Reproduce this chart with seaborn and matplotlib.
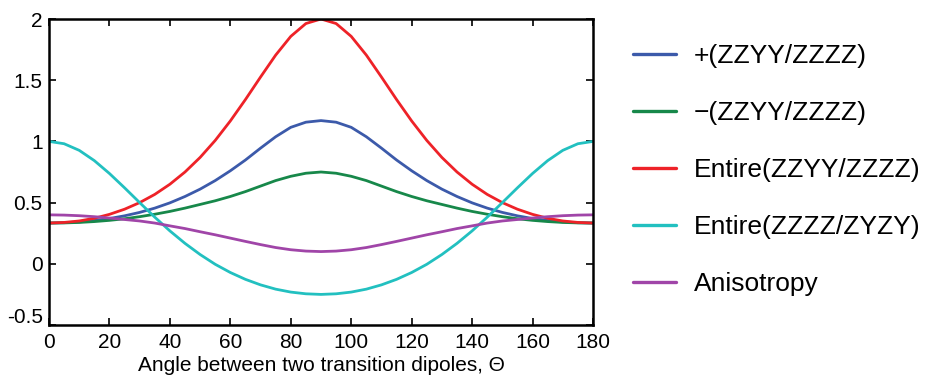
import matplotlib
matplotlib.use("Agg")
import matplotlib.pyplot as plt
import matplotlib.transforms as mtransforms
import pandas as pd
import seaborn as sns

# Angle grid (degrees) and curve values
theta = list(range(0, 181, 5))

plus_zzyy = [0.333, 0.336, 0.342, 0.354, 0.370, 0.392, 0.420, 0.455, 0.498, 0.550,
             0.610, 0.680, 0.760, 0.848, 0.945, 1.038, 1.115, 1.157, 1.170, 1.157,
             1.115, 1.038, 0.945, 0.848, 0.760, 0.680, 0.610, 0.550, 0.498, 0.455,
             0.420, 0.392, 0.370, 0.354, 0.342, 0.336, 0.333]
minus_zzyy = [0.333, 0.334, 0.338, 0.345, 0.355, 0.368, 0.385, 0.405, 0.428, 0.455,
              0.485, 0.515, 0.550, 0.590, 0.635, 0.680, 0.715, 0.740, 0.750, 0.740,
              0.715, 0.680, 0.635, 0.590, 0.550, 0.515, 0.485, 0.455, 0.428, 0.405,
              0.385, 0.368, 0.355, 0.345, 0.338, 0.334, 0.333]
entire_zzyy = [0.333, 0.338, 0.350, 0.372, 0.404, 0.446, 0.500, 0.567, 0.650, 0.750,
               0.869, 1.008, 1.167, 1.342, 1.526, 1.705, 1.858, 1.963, 2.000, 1.963,
               1.858, 1.705, 1.526, 1.342, 1.167, 1.008, 0.869, 0.750, 0.650, 0.567,
               0.500, 0.446, 0.404, 0.372, 0.350, 0.338, 0.333]
entire_zzzz = [1.000, 0.981, 0.927, 0.843, 0.738, 0.621, 0.500, 0.381, 0.269, 0.167,
               0.076, -0.004, -0.071, -0.127, -0.172, -0.207, -0.231, -0.245, -0.250, -0.245,
               -0.231, -0.207, -0.172, -0.127, -0.071, -0.004, 0.076, 0.167, 0.269, 0.381,
               0.500, 0.621, 0.738, 0.843, 0.927, 0.981, 1.000]
anisotropy = [0.400, 0.398, 0.393, 0.385, 0.374, 0.362, 0.350, 0.333, 0.310, 0.288,
              0.262, 0.237, 0.210, 0.183, 0.157, 0.133, 0.115, 0.104, 0.100, 0.104,
              0.115, 0.133, 0.157, 0.183, 0.210, 0.237, 0.262, 0.288, 0.310, 0.333,
              0.350, 0.362, 0.374, 0.385, 0.393, 0.398, 0.400]

labels = ["+(ZZYY/ZZZZ)", "\u2212(ZZYY/ZZZZ)", "Entire(ZZYY/ZZZZ)",
          "Entire(ZZZZ/ZYZY)", "Anisotropy"]
colors = ["#3c5aaa", "#17884a", "#ee2228", "#22c0c0", "#a045a8"]
y_ticks = [-0.5, 0, 0.5, 1, 1.5, 2]
y_tick_labels = ["-0.5", "0", "0.5", "1", "1.5", "2"]
x_ticks = list(range(0, 181, 20))

frames = []
for name, vals in zip(labels, [plus_zzyy, minus_zzyy, entire_zzyy, entire_zzzz, anisotropy]):
    frames.append(pd.DataFrame({"theta": theta, "value": vals, "series": name}))
df = pd.concat(frames, ignore_index=True)

sns.set_theme(style="ticks")
plt.rcParams["font.family"] = ["Liberation Sans", "DejaVu Sans"]
plt.rcParams["axes.unicode_minus"] = False
plt.rcParams["text.color"] = "black"

fig = plt.figure(figsize=(9.26, 3.77), dpi=100)
ax = fig.add_axes([0.0529, 0.1379, 0.5875, 0.8117])

sns.lineplot(data=df, x="theta", y="value", hue="series", hue_order=labels,
             palette=dict(zip(labels, colors)), linewidth=2.0, ax=ax)

ax.set_xlim(0, 180)
ax.set_ylim(-0.5, 2)
ax.set_xticks(x_ticks)
ax.set_yticks(y_ticks)
ax.set_yticklabels(y_tick_labels)
ax.tick_params(direction="in", length=5, width=1.2, top=True, right=True,
               colors="black", labelsize=15, labelcolor="black")
ax.tick_params(axis="y", pad=4.5)
ax.tick_params(axis="x", pad=5.5)
for sp in ax.spines.values():
    sp.set_visible(True)
    sp.set_linewidth(1.8)
    sp.set_color("black")

# the bottom y label sits a bit above the corner in the original
fig.canvas.draw()
ylabs = ax.get_yticklabels()
ylabs[0].set_transform(ylabs[0].get_transform() +
                       mtransforms.ScaledTranslation(0, 10 / 100, fig.dpi_scale_trans))

ax.set_xlabel("Angle between two transition dipoles, \u0398",
              fontsize=15, labelpad=3, color="black")
ax.set_ylabel("")

handles, _ = ax.get_legend_handles_labels()
leg = ax.legend(handles, labels, loc="upper left", bbox_to_anchor=(0.684, 0.883),
                bbox_transform=fig.transFigure, frameon=False, fontsize=19,
                handlelength=1.6, handletextpad=0.68, labelspacing=1.25,
                borderpad=0, borderaxespad=0)
for line in leg.get_lines():
    line.set_linewidth(2.4)
for t in leg.get_texts():
    t.set_color("black")

fig.savefig("out.png", dpi=100)
